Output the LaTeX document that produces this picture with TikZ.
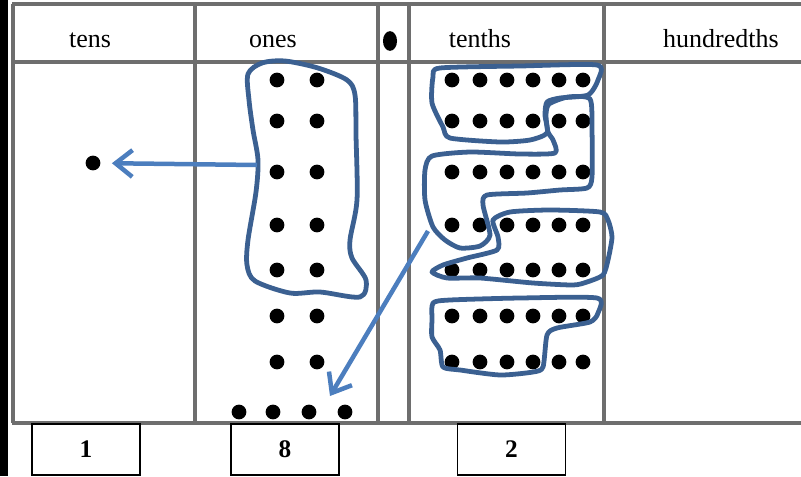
\documentclass[tikz,border=0pt]{standalone}
\usepackage{fontspec}
\setmainfont{Liberation Serif}
\usetikzlibrary{arrows.meta, shapes.geometric}
\definecolor{groupblue}{RGB}{59, 96, 145}
\definecolor{carryblue}{RGB}{76, 126, 190}
\definecolor{rulegray}{RGB}{110, 110, 110}

\begin{document}
\begin{tikzpicture}[x=0.025cm, y=-0.025cm,
  gridline/.style={draw=rulegray, line width=2.2pt},
  counter/.style={circle, fill=black, inner sep=0pt, minimum size=10.5pt},
  groupline/.style={draw=groupblue, line width=3.4pt, line join=round},
  carry/.style={draw=carryblue, line width=3.2pt, -{Straight Barb[length=12pt, width=19pt]}},
  colhead/.style={anchor=base, font=\fontsize{18.5}{22}\selectfont},
  numbox/.style={draw, line width=1.3pt, minimum width=76.8pt, minimum height=36pt, font=\fontsize{18}{22}\selectfont\bfseries}]
  \useasboundingbox (0,0) rectangle (801,476);
  \fill[black] (0,0) rectangle (8,476);

  \draw[gridline] (12,4) -- (801,4);
  \draw[gridline] (12,62) -- (801,62);
  \draw[gridline] (12,423) -- (801,423);
  \foreach \x in {13,195,378,409,604}
    \draw[gridline] (\x,4) -- (\x,423);

  \node[colhead] (tens) at (90,47) {tens};
  \node[colhead] (ones) at (273,47) {ones};
  \node[colhead] (tenths) at (480,47) {tenths};
  \node[colhead] (hundredths) at (721,47) {hundredths};
  \node[ellipse, fill=black, inner sep=0pt, minimum width=10pt, minimum height=14pt] (point) at (390,41) {};

  \node[counter] (tendot) at (93,163) {};
  \foreach \y in {80,121,172,225,270,316,362} {
    \node[counter] at (277,\y) {};
    \node[counter] at (317,\y) {};
  }
  \foreach \x in {239,273,309,345}
    \node[counter] at (\x,412) {};
  \foreach \y in {80,121,172,225,270,316,362}
    \foreach \x in {452,480,507,533,559,583}
      \node[counter] at (\x,\y) {};

  \draw[groupline] plot[smooth cycle, tension=0.5] coordinates {(248,74) (262,63) (285,61) (318,68) (347,80) (355,95) (356,135) (357,200) (350,240) (352,258) (366,280) (360,297) (320,292) (290,293) (255,281) (247,265) (248,240) (256,192) (258,160) (253,130) (249,100)};
  \draw[groupline] plot[smooth cycle, tension=0.4] coordinates {(433,77) (440,68) (520,66) (597,65) (598,80) (588,95) (560,98) (547,102) (545,115) (547,133) (530,140) (500,142) (450,138) (443,127) (432,103)};
  \draw[groupline] plot[smooth cycle, tension=0.4] coordinates {(549,104) (568,97) (590,99) (592,130) (592,177) (587,188) (560,190) (527,193) (487,195) (483,205) (490,235) (480,246) (460,248) (445,240) (433,227) (425,200) (425,170) (432,156) (470,152) (520,154) (555,153) (553,140) (548,132) (546,115)};
  \draw[groupline] plot[smooth cycle, tension=0.4] coordinates {(493,220) (510,212) (550,210) (600,212) (608,220) (612,237) (608,260) (603,275) (587,282) (573,285) (533,283) (480,278) (447,278) (432,272) (443,265) (467,258) (497,250) (498,237)};
  \draw[groupline] plot[smooth cycle, tension=0.4] coordinates {(433,303) (450,300) (520,298) (597,298) (598,313) (590,322) (557,328) (547,335) (543,367) (533,372) (500,375) (460,370) (443,367) (440,350) (432,337) (432,320)};

  \coordinate (onesgrp) at (257,165);
  \coordinate (tenthsgrp) at (428,231);
  \coordinate (onesdrop) at (330,396);
  \draw[carry, shorten >=8pt] (onesgrp) -- (tendot);
  \draw[carry] (tenthsgrp) -- (onesdrop);

  \node[numbox] (tensdigit) at (86,449.5) {1};
  \node[numbox] (onesdigit) at (285,449.5) {8};
  \node[numbox] (tenthsdigit) at (511.5,449.5) {2};
\end{tikzpicture}
\end{document}
